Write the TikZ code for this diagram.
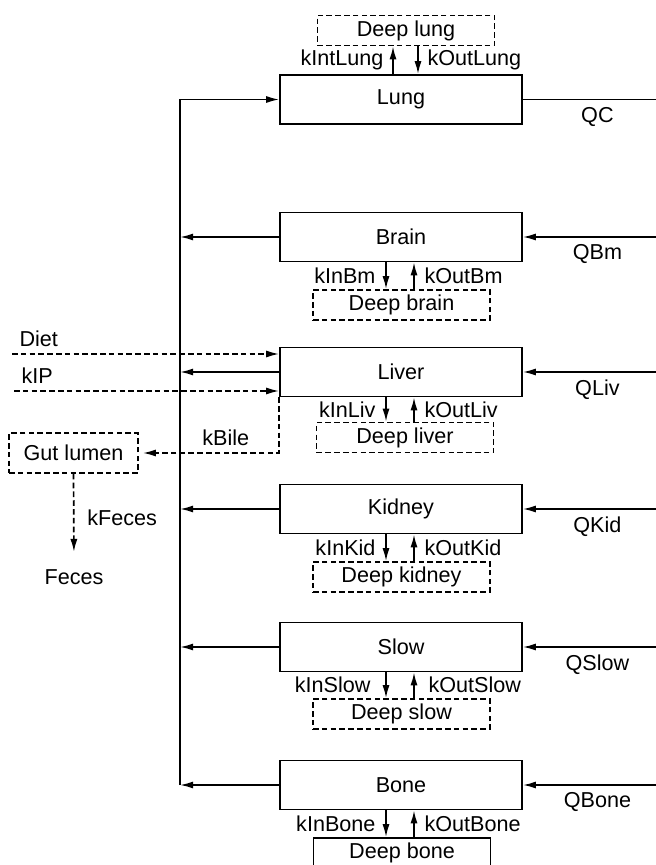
\documentclass[tikz,border=0pt]{standalone}
\usepackage{fontspec}
\setmainfont{Liberation Sans}
\usetikzlibrary{arrows.meta,calc,positioning}

\begin{document}
\begin{tikzpicture}[
    x=0.5pt, y=-0.5pt,
    line width=0.85pt,
    every node/.style={font=\fontsize{10.8}{13}\selectfont},
    organ/.style={draw, line width=0.85pt, minimum width=121pt, minimum height=24.5pt},
    deep/.style={draw, line width=0.85pt, dash pattern=on 2.8pt off 1.6pt, inner ysep=1pt,
                 minimum width=88.5pt, minimum height=15pt},
    flow/.style={line width=0.85pt, -{Latex[length=6.5pt,width=3.5pt]}},
    dflow/.style={flow, dash pattern=on 2.8pt off 1.6pt}
]

% page frame
\useasboundingbox (0,0) rectangle (656,865);
\clip (0,0) rectangle (656,865);

% compartments
\node[organ] (lung)   at (401,99.5) {Lung};
\node[organ] (brain)  at (401,237)  {Brain};
\node[organ] (liver)  at (401,372)  {Liver};
\node[organ] (kidney) at (401,509)  {Kidney};
\node[organ] (slow)   at (401,647)  {Slow};
\node[organ] (bone)   at (401,785)  {Bone};

% deep compartments
\node[deep] (dlung)   at (406,30.5)  {Deep lung};
\node[deep] (dbrain)  at (401.5,305) {Deep brain};
\node[deep] (dliver)  at (405,437.5) {Deep liver};
\node[deep] (dkidney) at (401.5,577) {Deep kidney};
\node[deep] (dslow)   at (401.5,714) {Deep slow};
\node[deep, solid] (dbone) at (402,853) {Deep bone};

% gut
\node[deep, minimum width=64.5pt, minimum height=20pt] (gut) at (73.5,453) {Gut lumen};
\node (feces) at (74,577) {Feces};

% helper points
\coordinate (vtop) at (180,99.5);
\coordinate (vbot) at (180,785);
\coordinate (qc)   at (656,99.5);
\coordinate (diet) at (12,354);
\coordinate (kip)  at (14,391);

% venous and arterial flows
\draw[flow] (vbot) -- (vtop) -- (lung.west);
\draw (lung.east) -- node[below, pos=0.56] {QC} (qc);
\foreach \o/\q in {brain/QBm, liver/QLiv, kidney/QKid, slow/QSlow, bone/QBone}{
    \draw[flow] (\o.east -| qc) -- node[below, pos=0.44] {\q} (\o.east);
    \draw[flow] (\o.west) -- (\o.west -| vtop);
}

% exchange with deep compartments
\draw[flow] ([xshift=-4pt]lung.north) -- node[left=1pt] {kIntLung} ([xshift=-4pt]lung.north |- dlung.south);
\draw[flow] ([xshift=8.5pt]lung.north |- dlung.south) -- node[right=1pt] {kOutLung} ([xshift=8.5pt]lung.north);
\foreach \o/\d/\i/\u/\li/\ri in {brain/dbrain/kInBm/kOutBm/1.5pt/1.5pt,
        liver/dliver/kInLiv/kOutLiv/1.5pt/1.5pt,
        kidney/dkidney/kInKid/kOutKid/1.5pt/1.5pt,
        slow/dslow/kInSlow/kOutSlow/4pt/3.5pt,
        bone/dbone/kInBone/kOutBone/1.5pt/1.5pt}{
    \draw[flow] ([xshift=-7.5pt]\o.south) -- node[left=\li] {\i} ([xshift=-7.5pt]\o.south |- \d.north);
    \draw[flow] ([xshift=6.5pt]\o.south |- \d.north) -- node[right=\ri] {\u} ([xshift=6.5pt]\o.south);
}

% oral intake, bile and feces
\draw[dflow] (diet) node[above right] {Diet} -- (diet -| liver.west);
\draw[dflow] (kip) node[above right] {kIP} -- (kip -| liver.west);
\draw[dflow, shorten >=2pt] (liver.south west) |- node[above, pos=0.69] {kBile} (gut.east);
\draw[dflow, shorten >=5pt] (gut.south) -- node[right=3pt] {kFeces} (feces.north);

\end{tikzpicture}
\end{document}
